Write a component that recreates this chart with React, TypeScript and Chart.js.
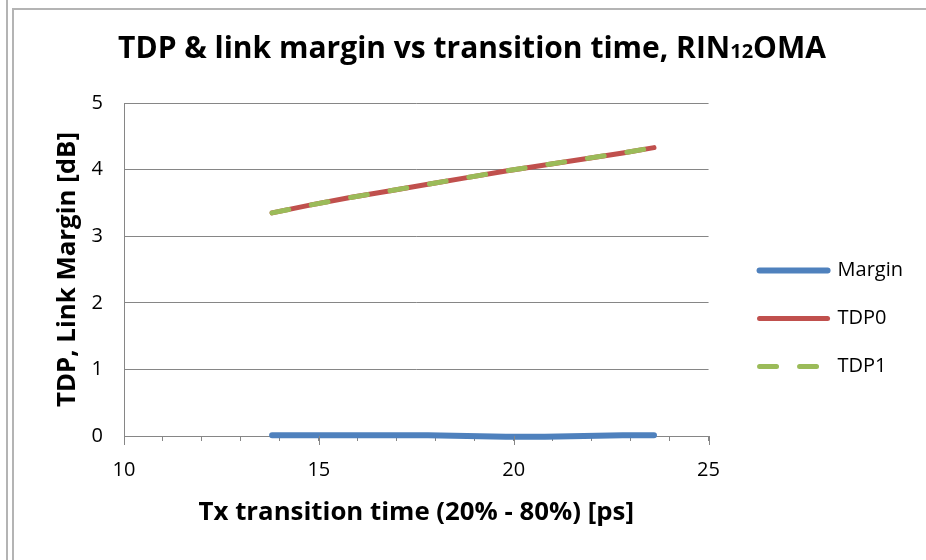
import React, { useEffect, useRef } from "react";
import { Chart, registerables } from "chart.js";

Chart.register(...registerables);

const TITLE_MAIN = "TDP & link margin vs transition time, RIN";
const TITLE_SUB = "12";
const TITLE_END = "OMA";
const X_TITLE = "Tx transition time (20% - 80%) [ps]";
const Y_TITLE = "TDP, Link Margin [dB]";
const SERIES_NAMES = ["Margin", "TDP0", "TDP1"];

const transitionTimes = [13.8, 14.8, 15.8, 16.8, 17.8, 18.8, 19.8, 20.8, 21.8, 22.8, 23.6];
const marginValues = [0.01, 0.01, 0.01, 0.01, 0.01, 0.0, -0.01, -0.01, 0.0, 0.01, 0.01];
const tdp0Values = [3.35, 3.47, 3.58, 3.68, 3.78, 3.88, 3.98, 4.07, 4.16, 4.25, 4.33];
const tdp1Values = [3.35, 3.47, 3.58, 3.68, 3.78, 3.88, 3.98, 4.07, 4.16, 4.25, 4.33];
const xLabelTicks = [10, 15, 20, 25];

const FONT = "'Open Sans', Lato, sans-serif";
const AXIS_GRAY = "#868686";

const toPoints = (ys: number[]) => transitionTimes.map((x, i) => ({ x, y: ys[i] }));

const titlePlugin = {
  id: "mixedTitle",
  afterDraw(chart: any) {
    const ctx = chart.ctx;
    ctx.save();
    ctx.fillStyle = "#000";
    ctx.textBaseline = "alphabetic";
    const big = `bold 30px ${FONT}`;
    const small = `bold 20px ${FONT}`;
    ctx.font = big;
    const w1 = ctx.measureText(TITLE_MAIN).width;
    const w3 = ctx.measureText(TITLE_END).width;
    ctx.font = small;
    const w2 = ctx.measureText(TITLE_SUB).width;
    const total = w1 + w2 + w3;
    let x = 472 - total / 2;
    const y = 58;
    ctx.textAlign = "left";
    ctx.font = big;
    ctx.fillText(TITLE_MAIN, x, y);
    x += w1;
    ctx.font = small;
    ctx.fillText(TITLE_SUB, x, y);
    x += w2;
    ctx.font = big;
    ctx.fillText(TITLE_END, x, y);
    ctx.restore();
  },
};

const majorTickPlugin = {
  id: "majorTicks",
  afterDraw(chart: any) {
    const sx = chart.scales.x;
    const ctx = chart.ctx;
    ctx.save();
    ctx.strokeStyle = AXIS_GRAY;
    ctx.lineWidth = 1;
    xLabelTicks.forEach((v) => {
      const px = Math.round(sx.getPixelForValue(v)) + 0.5;
      ctx.beginPath();
      ctx.moveTo(px, sx.top);
      ctx.lineTo(px, sx.top + 9);
      ctx.stroke();
    });
    ctx.restore();
  },
};

const legendLabels = (chart: any) => {
  const base = (Chart.defaults as any).plugins.legend.labels.generateLabels(chart);
  return base
    .map((item: any) => {
      const ds = chart.data.datasets[item.datasetIndex];
      return {
        ...item,
        lineWidth: ds.borderWidth,
        lineDash: ds.borderDash || [],
        lineCap: "round",
        strokeStyle: ds.borderColor,
        fillStyle: ds.borderColor,
        pointStyle: "line",
      };
    })
    .sort((a: any, b: any) => a.datasetIndex - b.datasetIndex);
};

export default function App() {
  const canvasRef = useRef<HTMLCanvasElement | null>(null);

  useEffect(() => {
    if (!canvasRef.current) return;
    const chart = new Chart(canvasRef.current, {
      type: "line",
      data: {
        datasets: [
          {
            label: SERIES_NAMES[0],
            data: toPoints(marginValues),
            borderColor: "#4F81BD",
            backgroundColor: "#4F81BD",
            borderWidth: 6,
            pointRadius: 0,
            borderCapStyle: "round",
            order: 2,
            clip: false,
          },
          {
            label: SERIES_NAMES[1],
            data: toPoints(tdp0Values),
            borderColor: "#C0504D",
            backgroundColor: "#C0504D",
            borderWidth: 5,
            pointRadius: 0,
            borderCapStyle: "round",
            order: 1,
          },
          {
            label: SERIES_NAMES[2],
            data: toPoints(tdp1Values),
            borderColor: "#9BBB59",
            backgroundColor: "#9BBB59",
            borderWidth: 5,
            borderDash: [17, 23],
            borderCapStyle: "round",
            pointRadius: 0,
            order: 0,
          },
        ],
      },
      options: {
        animation: false,
        responsive: false,
        layout: { padding: { top: 103, left: 52, right: 13, bottom: 26 } },
        scales: {
          x: {
            type: "linear",
            min: 10,
            max: 25,
            grid: {
              drawOnChartArea: false,
              drawTicks: true,
              tickLength: 5,
              color: AXIS_GRAY,
            },
            border: { color: AXIS_GRAY, width: 1 },
            ticks: {
              stepSize: 1,
              autoSkip: false,
              maxRotation: 0,
              color: "#000",
              font: { family: FONT, size: 20 },
              padding: 17,
              callback: (v: any) => (xLabelTicks.includes(Number(v)) ? String(v) : ""),
            },
            title: {
              display: true,
              text: X_TITLE,
              color: "#000",
              font: { family: FONT, size: 25.8, weight: "bold" },
              padding: { top: 20, bottom: 6 },
            },
            afterFit: (scale: any) => {
              scale.height = 98;
            },
          },
          y: {
            type: "linear",
            min: 0,
            max: 5,
            grid: { color: AXIS_GRAY, drawTicks: false },
            border: { color: AXIS_GRAY, width: 1 },
            ticks: {
              stepSize: 1,
              color: "#000",
              font: { family: FONT, size: 20 },
              padding: 21,
            },
            title: {
              display: true,
              text: Y_TITLE,
              color: "#000",
              font: { family: FONT, size: 25.8, weight: "bold" },
              padding: { top: 0, bottom: 10 },
            },
            afterFit: (scale: any) => {
              scale.width = 72;
            },
          },
          gap: {
            type: "linear",
            position: "right",
            display: true,
            grid: { display: false },
            border: { display: false },
            ticks: { display: false },
            afterFit: (scale: any) => {
              scale.width = 23;
            },
          },
        },
        plugins: {
          title: { display: false },
          tooltip: { enabled: false },
          legend: {
            display: true,
            position: "right",
            align: "center",
            maxWidth: 200,
            labels: {
              generateLabels: legendLabels,
              usePointStyle: true,
              pointStyle: "line",
              pointStyleWidth: 68,
              boxHeight: 20,
              padding: 28,
              color: "#000",
              font: { family: FONT, size: 20 },
            },
          },
        },
      },
      plugins: [titlePlugin, majorTickPlugin],
    } as any);
    return () => chart.destroy();
  }, []);

  return (
    <div style={{ position: "fixed", left: 0, top: 0, width: 926, height: 560, background: "#fff", overflow: "hidden" }}>
      <div style={{ position: "absolute", left: 6, top: 0, width: 0, height: 560, borderLeft: "2px solid #b4b4b4" }} />
      <div
        style={{
          position: "absolute",
          left: 12,
          top: 8,
          width: 940,
          height: 600,
          borderLeft: "2px solid #b4b4b4",
          borderTop: "2px solid #b4b4b4",
        }}
      />
      <canvas ref={canvasRef} width={926} height={560} style={{ position: "absolute", left: 0, top: 0, display: "block" }} />
    </div>
  );
}
